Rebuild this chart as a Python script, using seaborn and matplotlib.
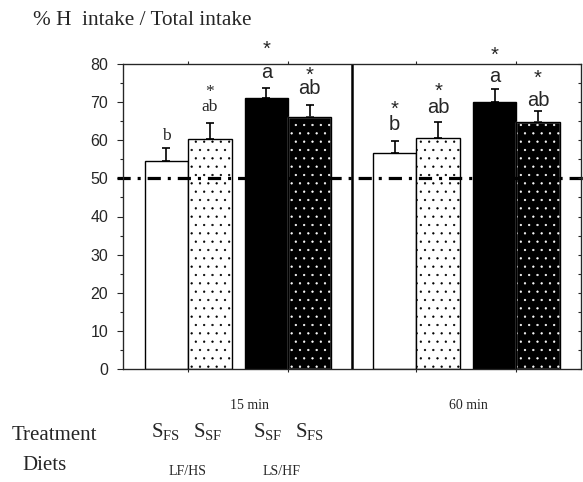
import matplotlib
matplotlib.use('Agg')
import matplotlib.pyplot as plt
import matplotlib.patches as mpatches
import seaborn as sns
import pandas as pd
import numpy as np

# ---- data ----
times = ['15 min', '60 min']
treatments = ['S_FS', 'S_SF', 'S_SF', 'S_FS']
diets = ['LF/HS', 'LS/HF']
means = [54.5, 60.2, 71.0, 66.0, 56.7, 60.5, 70.1, 64.9]
errors = [3.5, 4.4, 2.8, 3.2, 3.1, 4.2, 3.3, 2.8]
letters = ['b', 'ab', 'a', 'ab', 'b', 'ab', 'a', 'ab']
letter_y = [60.0, 67.7, 76.5, 72.1, 62.7, 67.2, 75.4, 69.1]
stars = ['', '*', '*', '*', '*', '*', '*', '*']
star_gap = [1.0, 0.86, 1.22, 0.67, 0.73, 0.80, 1.16, 1.22]  # line spacing star -> letter
reference_level = 50

# ---- style ----
sns.set_style('ticks')
plt.rcParams['font.family'] = ['Liberation Sans', 'DejaVu Sans']
plt.rcParams['hatch.linewidth'] = 0.4
plt.rcParams['lines.scale_dashes'] = False
SERIF = ['Liberation Serif', 'DejaVu Serif']
SANS = ['Liberation Sans', 'DejaVu Sans']

W, H = 583, 482
fig = plt.figure(figsize=(W / 100, H / 100), dpi=100)
ax_l, ax_r, ax_t, ax_b = 123, 581, 64, 369
ax = fig.add_axes([ax_l / W, 1 - ax_b / H, (ax_r - ax_l) / W, (ax_b - ax_t) / H])

# positions: group offset + pair offset + bar index
pos = []
for g in range(2):
    for p in range(2):
        for b in range(2):
            pos.append(1 + 5.26 * g + 2.3 * p + b)
df = pd.DataFrame({'pos': pos, 'mean': means})

sns.barplot(data=df, x='pos', y='mean', native_scale=True, width=1.0,
            errorbar=None, color='white', edgecolor='black', linewidth=1.0,
            saturation=1, ax=ax)

styles = ['white', 'dots_w', 'black', 'dots_b'] * 2
for patch, st in zip(ax.patches, styles):
    patch.set_zorder(2)
    if st == 'white':
        patch.set_facecolor('white')
    elif st == 'dots_w':
        patch.set_facecolor('white')
        patch.set_hatch('..')
    elif st == 'black':
        patch.set_facecolor('black')
    elif st == 'dots_b':
        patch.set_facecolor('black')
        patch.set_edgecolor('white')
        patch.set_hatch('..')
        bb = patch.get_bbox()
        ax.add_patch(mpatches.Rectangle((bb.x0, bb.y0), bb.width, bb.height,
                                        fill=False, edgecolor='black', lw=1.0, zorder=2.5))

ax.errorbar(pos, means, yerr=[np.zeros(len(errors)), errors], fmt='none',
            ecolor='black', elinewidth=1.2, capsize=2.7, capthick=1.2, zorder=1.5)

# reference line
ax.axhline(reference_level, xmin=-0.013, xmax=1.01, color='black', lw=2.3,
           dashes=(9.5, 5, 2.2, 5), clip_on=False, zorder=3)

# divider
ax.axvline((pos[3] + pos[4]) / 2, color='black', lw=1.8, zorder=3)

ax.set_xlim(0, 10.55)
ax.set_ylim(0, 80)
ax.set_yticks(np.arange(0, 81, 10))
ax.set_yticks(np.arange(0, 81, 5), minor=True)
ax.tick_params(axis='y', which='major', direction='out', length=4.3, width=0.8,
               labelsize=11.5, pad=6.5)
ax.tick_params(axis='y', which='minor', direction='out', length=2.5, width=0.8)
xt = [(pos[i] + pos[i + 1]) / 2 for i in range(0, 8, 2)]
ax.set_xticks(xt)
ax.set_xticklabels([])
ax.tick_params(axis='x', top=True, bottom=True, direction='out', length=2.5, width=0.8)
ax.set_xlabel('')
ax.set_ylabel('')
for s in ax.spines.values():
    s.set_visible(True)
    s.set_linewidth(0.9)

ax2 = ax.twinx()
ax2.set_ylim(0, 80)
ax2.set_yticks(np.arange(0, 81, 5))
ax2.set_yticklabels([])
ax2.tick_params(axis='y', direction='in', length=2.5, width=0.8)

# annotations: star and letter as one two-line label, bottom line sits on letter_y
for i in range(8):
    serif = i < 2
    fam = SERIF if serif else SANS
    fs = 12.5 if serif else 14.5
    label = (stars[i] + '\n' + letters[i]) if stars[i] else letters[i]
    ax.annotate(label, xy=(pos[i], letter_y[i]), xytext=(0, -0.212 * fs),
                textcoords='offset points', ha='center', va='bottom',
                multialignment='center', linespacing=star_gap[i],
                family=fam, fontsize=fs, annotation_clip=False, zorder=4)

# outside texts
def px(x, y):
    return x / W, 1 - y / H

fig.text(*px(33, 25), '% H  intake / Total intake', family=SERIF, fontsize=15.3,
         ha='left', va='baseline')
fig.text(*px(249, 409), times[0], family=SERIF, fontsize=10, ha='center', va='baseline')
fig.text(*px(468, 409), times[1], family=SERIF, fontsize=10, ha='center', va='baseline')
fig.text(*px(12, 440), 'Treatment', family=SERIF, fontsize=15, ha='left', va='baseline')
fig.text(*px(22, 470), 'Diets', family=SERIF, fontsize=15, ha='left', va='baseline')
tr_x = [166, 208, 268, 310]
for x, t in zip(tr_x, treatments):
    base, sub = t.split('_')
    fig.text(*px(x, 437), r'$\mathregular{%s_{%s}}$' % (base, sub), family=SERIF,
             fontsize=15, ha='center', va='baseline')
for x, d in zip([188, 282], diets):
    fig.text(*px(x, 475), d, family=SERIF, fontsize=10, ha='center', va='baseline')

fig.savefig('out.png', dpi=100)
